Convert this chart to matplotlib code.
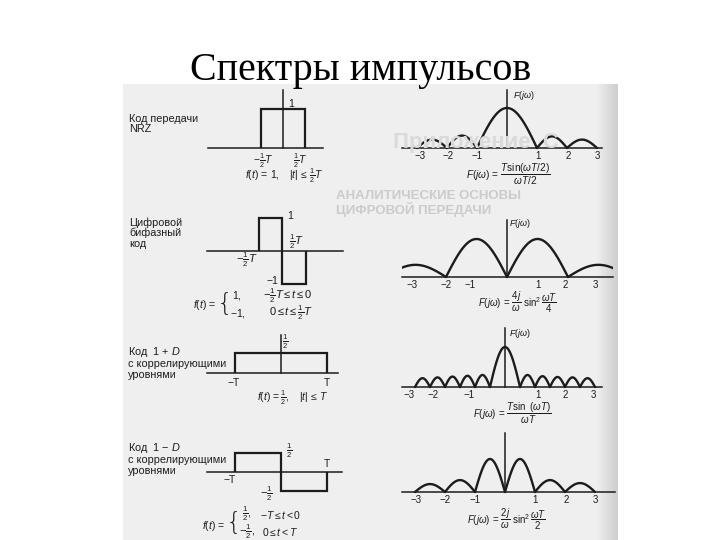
import numpy as np
import matplotlib.pyplot as plt

plt.rcParams['font.family'] = ['Liberation Sans', 'DejaVu Sans']
plt.rcParams['mathtext.fontset'] = 'custom'
plt.rcParams['mathtext.rm'] = 'Liberation Sans'
plt.rcParams['mathtext.it'] = 'Liberation Sans:italic'
plt.rcParams['mathtext.bf'] = 'Liberation Sans:bold'

INK = '#1c1c1c'
W, H = 720, 540

# time pulses: edges in units of T and the level on each step
nrz_edges, nrz_levels = [-0.5, 0.5], [1]
biph_edges, biph_levels = [-0.5, 0, 0.5], [1, -1]
d1p_edges, d1p_levels = [-1, 1], [0.5]
d1m_edges, d1m_levels = [-1, 0, 1], [0.5, -0.5]

# spectra: zero crossings (lobe edges) and relative lobe heights
nrz_zeros = [-3, -2, -1, 1, 2, 3]
nrz_peaks = [0.21, 0.31, 1.0, 0.29, 0.21]
biph_zeros = [-4, -2, 0, 2, 4]
biph_peaks = [0.32, 1.0, 1.0, 0.32]
d1p_zeros = [-3, -2.5, -2, -1.5, -1, -0.5, 0.5, 1, 1.5, 2, 2.5, 3]
d1p_peaks = [0.22, 0.24, 0.26, 0.28, 0.3, 1.0, 0.3, 0.27, 0.25, 0.24, 0.22]
d1m_zeros = [-3, -2, -1, 0, 1, 2, 3]
d1m_peaks = [0.24, 0.36, 1.0, 1.0, 0.36, 0.27]

tick_text = ['−3', '−2', '−1', '1', '2', '3']
nrz_tick_pos = [-2.9, -1.97, -1.0, 1.03, 2.03, 3.0]
biph_tick_pos = [-3.1, -2.0, -1.2, 1.0, 1.9, 2.9]
d1p_tick_pos = [-3.2, -2.4, -1.2, 1.1, 2.0, 2.95]
d1m_tick_pos = [-2.95, -2.0, -1.0, 1.0, 2.05, 3.0]

fig = plt.figure(figsize=(7.2, 5.4), dpi=100)


def ftext(x, y, s, **kw):
    # place text by page pixel position
    kw.setdefault('color', INK)
    return fig.text(x / W, 1 - y / H, s, **kw)


def make_ax(ox, oy, sx, sy, xlim, ylim, vbounds):
    # ox, oy: page pixel of the data origin; sx, sy: pixels per data unit
    x0, x1 = xlim
    y0, y1 = ylim
    ax = fig.add_axes([(ox + x0 * sx) / W, 1 - (oy - y0 * sy) / H,
                       (x1 - x0) * sx / W, (y1 - y0) * sy / H])
    ax.set_xlim(xlim)
    ax.set_ylim(ylim)
    ax.patch.set_visible(False)
    for s in ['top', 'right']:
        ax.spines[s].set_visible(False)
    ax.spines['bottom'].set_position(('data', 0))
    ax.spines['left'].set_position(('data', 0))
    ax.spines['left'].set_bounds(*vbounds)
    for s in ['bottom', 'left']:
        ax.spines[s].set_linewidth(1.1)
        ax.spines[s].set_color(INK)
    ax.set_xticks([])
    ax.set_yticks([])
    ax.tick_params(length=0, pad=2.5, labelsize=7, labelcolor=INK)
    return ax


def draw_lobes(ax, zeros, peaks):
    for a, b, h in zip(zeros[:-1], zeros[1:], peaks):
        w = np.linspace(a, b, 60)
        ax.plot(w, h * np.sin(np.pi * (w - a) / (b - a)), color=INK, lw=1.7,
                solid_capstyle='round')


# scanned page background with a darker right edge
bg = fig.add_axes([123 / W, 0, 495 / W, 456 / H])
grad = np.full((2, 495), 0.935)
edge = np.linspace(0, 1, 22)
grad[:, -22:] = 0.935 - 0.13 * edge
bg.imshow(grad, cmap='gray', vmin=0, vmax=1, aspect='auto', extent=[0, 1, 0, 1])
bg.axis('off')

# faint show-through from the printed page
ftext(393, 148, 'Приложение  С', color='#dadada', fontsize=16, fontweight='bold')
ftext(336, 199, 'АНАЛИТИЧЕСКИЕ ОСНОВЫ', color='#cbcbcb', fontsize=9.5, fontweight='bold')
ftext(336, 214, 'ЦИФРОВОЙ ПЕРЕДАЧИ', color='#cbcbcb', fontsize=9.5, fontweight='bold')

ftext(361, 80, 'Спектры импульсов', family='Liberation Serif', fontsize=28.8,
      ha='center', va='baseline', color='black')

# ---- row 1: NRZ ----
ax = make_ax(283, 148, 44, 39, (-1.7, 0.91), (-0.2, 1.49), (0, 1.49))
ax.stairs(nrz_levels, nrz_edges, baseline=0, color=INK, lw=1.6)
ax.set_xticks([-0.45, 0.4], [r'$-\frac{1}{2}T$', r'$\frac{1}{2}T$'])
ax.tick_params(labelsize=7.5)
ax.text(0.12, 1.13, '1', fontsize=7.5, va='center', color=INK)
ax.text(0.02, -0.72, r'$f(t)\,=\,1,\quad |t|\,\leq\,\frac{1}{2}T$', fontsize=7.5,
        ha='center', va='center', color=INK)
ftext(129, 114, 'Код передачи\nNRZ', fontsize=7.8, va='top', linespacing=1.05)

ax = make_ax(507, 148, 30, 40, (-3.5, 3.17), (-0.1, 1.45), (0, 1.45))
draw_lobes(ax, nrz_zeros, nrz_peaks)
ax.set_xticks(nrz_tick_pos, tick_text)
ftext(513, 95, r'$F(j\omega)$', fontsize=6.5, va='center')
ftext(508, 174, r'$F(j\omega)\,=\,\dfrac{T\sin(\omega T/2)}{\omega T/2}$', fontsize=7.2,
      ha='center', va='center')

# ---- row 2: biphase ----
ax = make_ax(282, 251, 47, 33, (-1.6, 1.3), (-1.1, 1.1), (-1, 1))
ax.stairs(biph_levels, biph_edges, baseline=0, color=INK, lw=1.6)
ax.text(0.12, 1.06, '1', fontsize=7.5, va='center', color=INK)
ax.text(0.32, 0.27, r'$\frac{1}{2}T$', fontsize=8, ha='center', va='center', color=INK)
ax.text(-0.74, -0.27, r'$-\frac{1}{2}T$', fontsize=8, ha='center', va='center', color=INK)
ax.text(-0.21, -0.91, '−1', fontsize=7.5, ha='center', va='center', color=INK)
ftext(129, 217, 'Цифровой\nбифазный\nкод', fontsize=7.8, va='top', linespacing=1.05)
ftext(193, 305, r'$f(t)\,=$', fontsize=7.5, va='center')
ftext(217, 304, '{', family='DejaVu Sans', fontsize=18, va='center', fontweight='light')
ftext(232, 296, r'$1,$', fontsize=7.5, va='center')
ftext(263, 296, r'$-\frac{1}{2}T\leq t\leq 0$', fontsize=8, va='center')
ftext(230, 313, r'$-1,$', fontsize=7.5, va='center')
ftext(269, 313, r'$0\leq t\leq \frac{1}{2}T$', fontsize=8, va='center')

ax = make_ax(507, 277, 30.5, 38, (-3.45, 3.48), (-0.1, 1.5), (0, 1.5))
draw_lobes(ax, biph_zeros, biph_peaks)
ax.set_xticks(biph_tick_pos, tick_text)
ftext(509, 224, r'$F(j\omega)$', fontsize=6.5, va='center')
ftext(518, 302, r'$F(j\omega)\,=\,\dfrac{4j}{\omega}\ \sin^2\dfrac{\omega T}{4}$', fontsize=7,
      ha='center', va='center')

# ---- row 3: 1 + D ----
ax = make_ax(281, 373, 46, 40, (-1.61, 1.24), (-0.2, 0.95), (0, 0.95))
ax.stairs(d1p_levels, d1p_edges, baseline=0, color=INK, lw=1.6)
ax.text(0.09, 0.78, r'$\frac{1}{2}$', fontsize=8, ha='center', va='center', color=INK)
ax.text(-1.04, -0.24, '−T', fontsize=7.5, ha='center', va='center', color=INK)
ax.text(1.0, -0.24, 'T', fontsize=7.5, ha='center', va='center', color=INK)
ax.text(0.26, -0.62, r'$f(t)\,=\frac{1}{2},\quad |t|\,\leq\,T$', fontsize=7.5,
        ha='center', va='center', color=INK)
ftext(128, 345, 'Код  1 + $D$\nс коррелирующими\nуровнями', fontsize=7.8, va='top',
      linespacing=1.05)

ax = make_ax(505, 387, 30, 40, (-3.43, 3.23), (-0.1, 1.48), (0, 1.48))
draw_lobes(ax, d1p_zeros, d1p_peaks)
ax.set_xticks(d1p_tick_pos, tick_text)
ftext(509, 333, r'$F(j\omega)$', fontsize=6.5, va='center')
ftext(512, 413, r'$F(j\omega)\,=\,\dfrac{T\sin\ (\omega T)}{\omega T}$', fontsize=7,
      ha='center', va='center')

# ---- row 4: 1 - D ----
ax = make_ax(281, 472, 46, 38, (-1.61, 1.33), (-0.6, 0.6), (-0.5, 0.5))
ax.stairs(d1m_levels, d1m_edges, baseline=0, color=INK, lw=1.6)
ax.text(0.17, 0.55, r'$\frac{1}{2}$', fontsize=8, ha='center', va='center', color=INK)
ax.text(-1.11, -0.2, '−T', fontsize=7.5, ha='center', va='center', color=INK)
ax.text(1.0, 0.2, 'T', fontsize=7.5, ha='center', va='center', color=INK)
ax.text(-0.32, -0.57, r'$-\frac{1}{2}$', fontsize=8, ha='center', va='center', color=INK)
ftext(128, 441, 'Код  1 − $D$\nс коррелирующими\nуровнями', fontsize=7.8, va='top',
      linespacing=1.05)
ftext(202, 526, r'$f(t)\,=$', fontsize=7.5, va='center')
ftext(226, 523, '{', family='DejaVu Sans', fontsize=18, va='center', fontweight='light')
ftext(242, 514, r'$\frac{1}{2},$', fontsize=8, va='center')
ftext(260, 515, r'$-T\leq t<0$', fontsize=7.5, va='center')
ftext(239, 532, r'$-\frac{1}{2},$', fontsize=8, va='center')
ftext(262, 532, r'$0\leq t<T$', fontsize=7.5, va='center')

ax = make_ax(505, 492, 30, 33, (-3.43, 3.67), (-0.1, 1.8), (0, 1.8))
draw_lobes(ax, d1m_zeros, d1m_peaks)
ax.set_xticks(d1m_tick_pos, tick_text)
ftext(507, 519, r'$F(j\omega)\,=\,\dfrac{2j}{\omega}\ \sin^2\dfrac{\omega T}{2}$', fontsize=7,
      ha='center', va='center')

fig.savefig('out.png', dpi=100, facecolor='white')
